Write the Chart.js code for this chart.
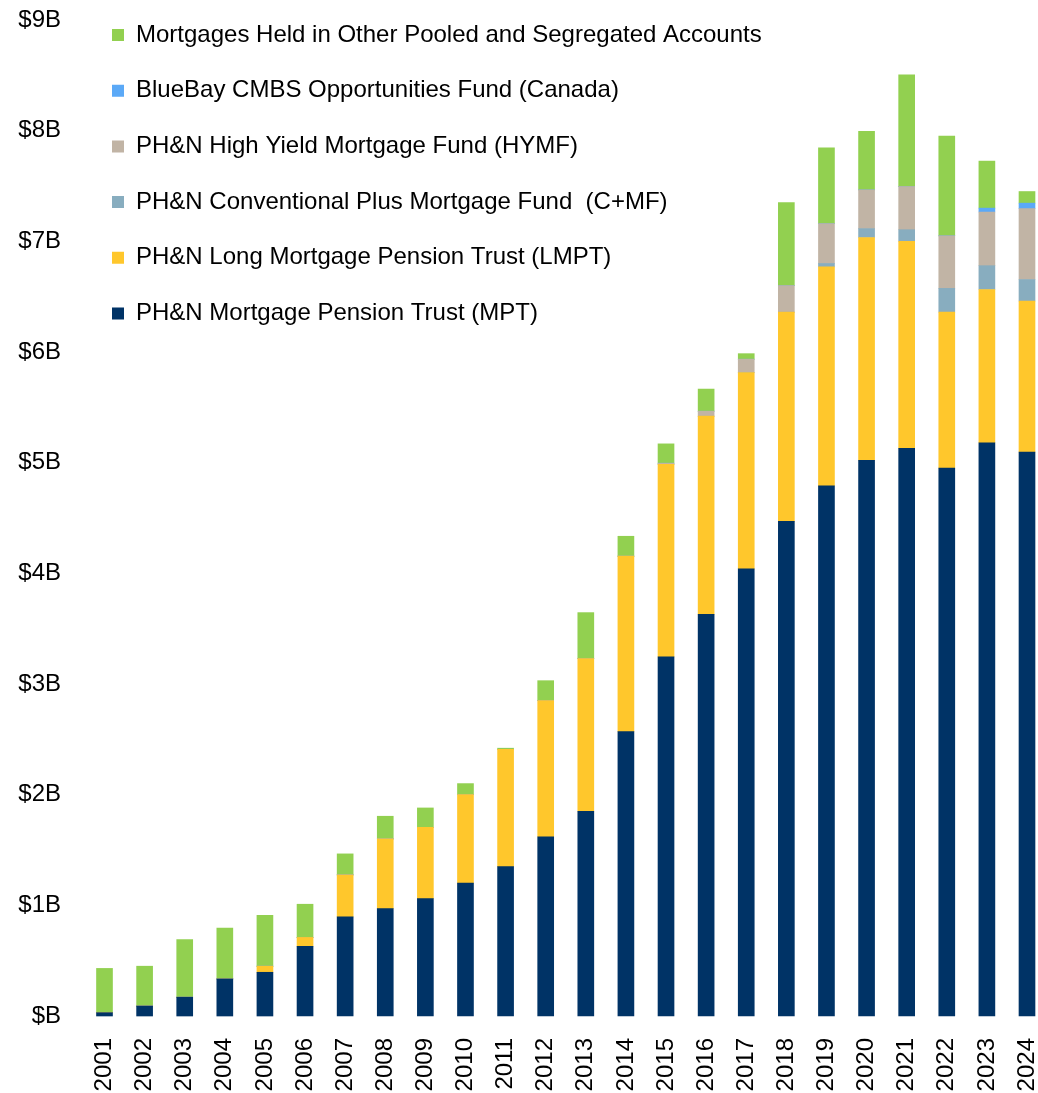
<!DOCTYPE html>
<html>
<head>
<meta charset="utf-8">
<script src="https://cdn.jsdelivr.net/npm/chart.js@4.4.1/dist/chart.umd.min.js"></script>
<style>
    html, body { margin: 0; padding: 0; background: #fff; }
    #wrap { width: 1038px; height: 1093px; position: relative; }
</style>
</head>
<body>
<div id="wrap"><canvas id="aumChart"></canvas></div>
<script>
const years = ['2001', '2002', '2003', '2004', '2005', '2006', '2007', '2008', '2009', '2010', '2011', '2012',
    '2013', '2014', '2015', '2016', '2017', '2018', '2019', '2020', '2021', '2022', '2023', '2024'];

// values in $ billions
const mptValues = [0.03, 0.09, 0.17, 0.335, 0.395, 0.63, 0.895, 0.97, 1.06, 1.20, 1.35, 1.62,
    1.85, 2.57, 3.245, 3.63, 4.04, 4.47, 4.79, 5.02, 5.13, 4.95, 5.18, 5.095];
const lmptValues = [0, 0, 0, 0, 0.055, 0.08, 0.38, 0.63, 0.645, 0.80, 1.06, 1.23,
    1.38, 1.585, 1.74, 1.79, 1.775, 1.89, 1.98, 2.015, 1.87, 1.41, 1.385, 1.365];
const cmfValues = [0, 0, 0, 0, 0, 0, 0, 0, 0, 0, 0, 0,
    0, 0, 0, 0, 0, 0, 0.03, 0.08, 0.105, 0.215, 0.215, 0.195];
const hymfValues = [0, 0, 0, 0, 0, 0, 0, 0, 0, 0, 0, 0,
    0, 0, 0.01, 0.045, 0.12, 0.24, 0.36, 0.35, 0.39, 0.475, 0.485, 0.64];
const blueBayValues = [0, 0, 0, 0, 0, 0, 0, 0, 0, 0, 0, 0,
    0, 0, 0, 0, 0, 0, 0, 0, 0, 0, 0.035, 0.05];
const otherValues = [0.40, 0.36, 0.52, 0.46, 0.46, 0.30, 0.19, 0.205, 0.175, 0.10, 0.01, 0.18,
    0.415, 0.18, 0.175, 0.20, 0.05, 0.75, 0.685, 0.53, 1.01, 0.90, 0.425, 0.105];

const yTicks = [0, 1, 2, 3, 4, 5, 6, 7, 8, 9];

const fontFamily = "'Liberation Sans', Arial, sans-serif";

// legend sits inside the plot, top left
const legendPosPlugin = {
    id: 'legendPos',
    afterLayout(chart) {
        const lg = chart.legend;
        const pad = lg.options.labels.padding;
        lg.left = 112 - pad;
        lg.top = 23 - pad;
    }
};

function makeSet(label, values, color) {
    return {
        label: label,
        data: values,
        backgroundColor: color,
        borderWidth: 0,
        barThickness: 16,
        clip: false
    };
}

const ctx = document.getElementById('aumChart').getContext('2d');
const aumChart = new Chart(ctx, {
    type: 'bar',
    data: {
        labels: years,
        datasets: [
            makeSet('PH&N Mortgage Pension Trust (MPT)', mptValues, '#003366'),
            makeSet('PH&N Long Mortgage Pension Trust (LMPT)', lmptValues, '#FFC72C'),
            makeSet('PH&N Conventional Plus Mortgage Fund  (C+MF)', cmfValues, '#88ADBF'),
            makeSet('PH&N High Yield Mortgage Fund (HYMF)', hymfValues, '#C1B4A5'),
            makeSet('BlueBay CMBS Opportunities Fund (Canada)', blueBayValues, '#5BA9F7'),
            makeSet('Mortgages Held in Other Pooled and Segregated Accounts', otherValues, '#92D050')
        ]
    },
    options: {
        responsive: true,
        maintainAspectRatio: false,
        animation: false,
        layout: {
            padding: { left: 0, right: 11, top: 20, bottom: 0 }
        },
        plugins: {
            legend: {
                position: 'chartArea',
                align: 'start',
                reverse: true,
                labels: {
                    boxWidth: 12,
                    boxHeight: 12,
                    padding: 31.7,
                    color: '#000',
                    font: { family: fontFamily, size: 24 }
                }
            },
            tooltip: { enabled: false }
        },
        scales: {
            x: {
                stacked: true,
                offset: false,
                grid: { display: false, drawTicks: false },
                border: { display: false },
                afterFit: function (scale) {
                    scale.paddingLeft = 0;
                    scale.paddingRight = 0;
                    scale.height = 77;
                },
                ticks: {
                    autoSkip: false,
                    minRotation: 90,
                    maxRotation: 90,
                    padding: 22,
                    color: '#000',
                    font: { family: fontFamily, size: 24 }
                }
            },
            y: {
                stacked: true,
                min: 0,
                max: 9,
                grid: { display: false, drawTicks: false },
                border: { display: false },
                afterBuildTicks: function (axis) {
                    axis.ticks = yTicks.map(v => ({ value: v }));
                },
                afterFit: function (scale) {
                    scale.paddingTop = 0;
                    scale.paddingBottom = 0;
                    scale.width = 104.5;
                },
                ticks: {
                    padding: 43.5,
                    color: '#000',
                    font: { family: fontFamily, size: 24 },
                    callback: function (value) {
                        return value === 0 ? '$B' : '$' + value + 'B';
                    }
                }
            }
        }
    },
    plugins: [legendPosPlugin]
});
</script>
</body>
</html>
